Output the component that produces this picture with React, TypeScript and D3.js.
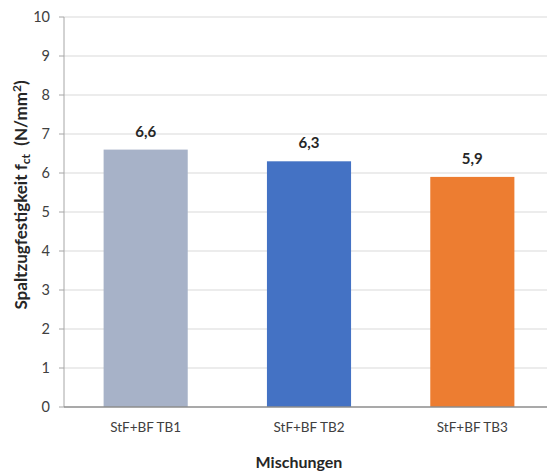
import React from "react";
import * as d3 from "d3";

const categories = ["StF+BF TB1", "StF+BF TB2", "StF+BF TB3"];
const values = [6.6, 6.3, 5.9];
const valueLabels = ["6,6", "6,3", "5,9"];
const barColors = ["#A7B2C8", "#4472C4", "#ED7D31"];
const yTicks = [0, 1, 2, 3, 4, 5, 6, 7, 8, 9, 10];

const W = 547;
const H = 472;
const left = 64;
const right = 554;
const top = 17;
const bottom = 407;
const font = "Lato, 'Open Sans', sans-serif";

export default function App() {
  const x = d3.scaleBand<string>().domain(categories).range([left, right]).paddingInner(0.485).paddingOuter(0.2425);
  const y = d3.scaleLinear().domain([0, 10]).range([bottom, top]);
  return (
    <svg width={W} height={H} style={{ position: "absolute", left: 0, top: 0, background: "#fff" }}>
      {yTicks.map((t) => (
        <g key={t}>
          {t > 0 && <line x1={left} x2={W} y1={y(t)} y2={y(t)} stroke="#D9D9D9" strokeWidth={1.2} />}
          <line x1={left - 5} x2={left} y1={y(t)} y2={y(t)} stroke="#A6A6A6" strokeWidth={1} />
          <text x={50} y={y(t)} dy="0.35em" textAnchor="end" fontFamily={font} fontSize={14.5} fill="#404040">
            {t}
          </text>
        </g>
      ))}
      <line x1={left} x2={left} y1={top} y2={bottom} stroke="#A6A6A6" strokeWidth={1} />
      {categories.map((c, i) => (
        <g key={c}>
          <rect x={x(c)} y={y(values[i])} width={x.bandwidth()} height={bottom - y(values[i])} fill={barColors[i]} />
          <text x={x(c)! + x.bandwidth() / 2} y={y(values[i]) - 13} textAnchor="middle" fontFamily={font} fontWeight="bold" fontSize={15} fill="#262626">
            {valueLabels[i]}
          </text>
          <text x={x(c)! + x.bandwidth() / 2} y={432} textAnchor="middle" fontFamily={font} fontSize={13.5} fill="#404040">
            {c}
          </text>
        </g>
      ))}
      <line x1={left} x2={W} y1={bottom} y2={bottom} stroke="#8C8C8C" strokeWidth={1.3} />
      <text x={299} y={468} textAnchor="middle" fontFamily={font} fontWeight="bold" fontSize={16} fill="#262626">
        Mischungen
      </text>
      <text transform={`translate(27,195) rotate(-90)`} textAnchor="middle" fontFamily={font} fontWeight="bold" fontSize={17} fill="#262626">
        Spaltzugfestigkeit f<tspan fontSize={12} dy={3}>ct</tspan>
        <tspan dy={-3}>{"\u00A0 (N/mm"}</tspan>
        <tspan fontSize={12} dy={-6}>2</tspan>
        <tspan dy={6}>)</tspan>
      </text>
    </svg>
  );
}
